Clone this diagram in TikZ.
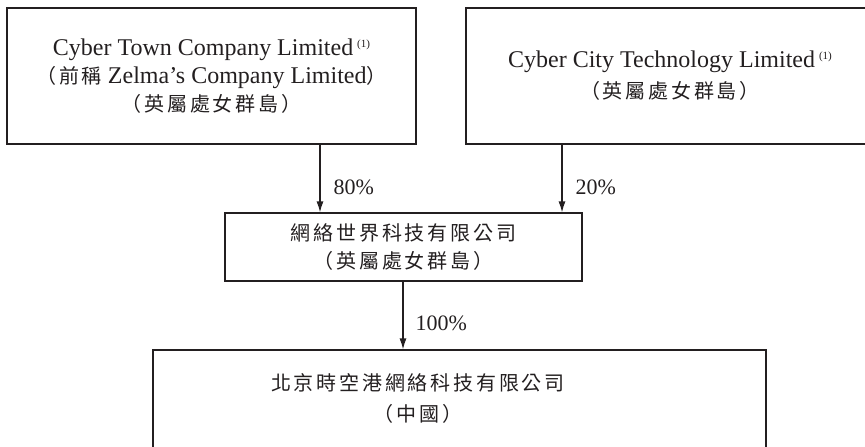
\documentclass[tikz,border=0pt]{standalone}
\usepackage{fontspec}
\setmainfont{Liberation Serif}
\newfontfamily\cjk[LetterSpace=14]{Noto Sans CJK TC}
\usepackage{xcolor}
\usetikzlibrary{arrows.meta}

\definecolor{ink}{RGB}{35,31,32}
\newcommand{\zh}[1]{{\cjk\fontsize{20}{20}\selectfont #1}}
\newcommand{\fnmark}{\,\raisebox{8pt}{\fontsize{11}{11}\selectfont (1)}}

\tikzset{
  entity/.style={draw, inner sep=0pt, align=center, font=\fontsize{24}{28}\selectfont},
  share/.style={anchor=west, xshift=13pt, inner sep=0pt, font=\fontsize{22}{24}\selectfont},
}

\begin{document}
\begin{tikzpicture}[x=1pt, y=-1pt, line width=1.2pt, color=ink, >={Latex[length=11pt,width=7pt]}]

      \useasboundingbox (0,0) rectangle (865,447);
      \clip (0,0) rectangle (865,447);

      % shareholders
      \node[entity, minimum width=409pt, minimum height=136pt] (cybertown) at (211.5,76)
        {Cyber Town Company Limited\fnmark\\ \zh{（前稱} Zelma’s Company Limited\zh{）}\\ \zh{（英屬處女群島）}};
      \node[entity, minimum width=408pt, minimum height=136pt] (cybercity) at (670,76)
        {Cyber City Technology Limited\fnmark\\[3pt] \zh{（英屬處女群島）}};

      % holding company
      \node[entity, minimum width=357pt, minimum height=68pt] (wangluo) at (403.5,247)
        {\zh{網絡世界科技有限公司}\\ \zh{（英屬處女群島）}};

      % subsidiary
      \node[entity, minimum width=613pt, minimum height=98pt] (beijing) at (459.5,399) {};
      \node[entity, draw=none] (beijingtxt) at (418,398)
        {\zh{北京時空港網絡科技有限公司}\\[3pt] \zh{（中國）}};

      \coordinate (a80) at (320,0);
      \coordinate (a20) at (562,0);
      \coordinate (a100) at (403,0);

      \draw[->] (cybertown.south -| a80) -- node[share, pos=0.63] {80\%} (wangluo.north -| a80);
      \draw[->] (cybercity.south -| a20) -- node[share, pos=0.63] {20\%} (wangluo.north -| a20);
      \draw[->] (wangluo.south -| a100) -- node[share, pos=0.62, xshift=-1pt] {100\%} (beijing.north -| a100);
    \end{tikzpicture}
\end{document}
